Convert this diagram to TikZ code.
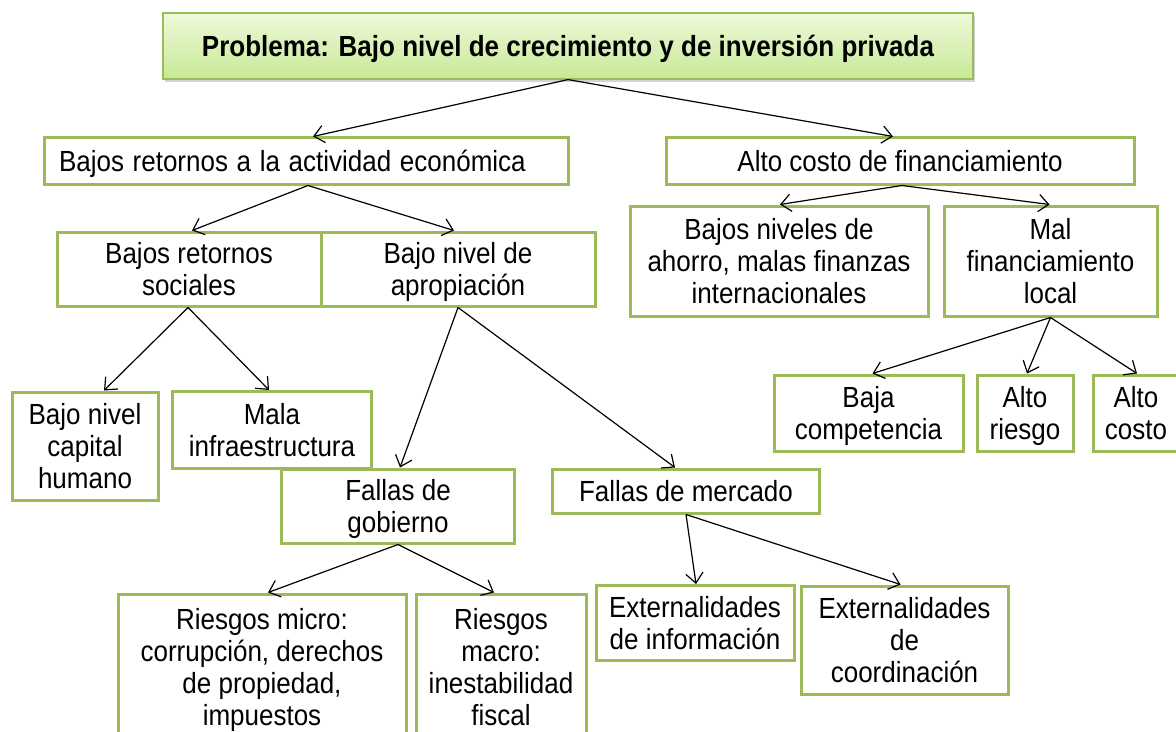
\documentclass[tikz,border=0pt]{standalone}
\usepackage{fontspec}
\usepackage{graphicx}
\setmainfont{Liberation Sans}
\usetikzlibrary{arrows.meta,calc,shadows}
\definecolor{bgreen}{RGB}{155,187,89}
\definecolor{gtop}{RGB}{238,249,218}
\definecolor{gbot}{RGB}{200,233,150}
\newcommand\vt[2][c]{\raisebox{-3pt}[\height][\depth]{\scalebox{1}[1.12]{\begin{tabular}{@{}#1@{}}#2\end{tabular}}}}
\begin{document}
\begin{tikzpicture}[x=0.75pt,y=-0.75pt,
  wh/.style 2 args={minimum width=#1*0.75pt, minimum height=#2*0.75pt},
  box/.style={draw=bgreen, line width=2.25pt, fill=white, inner sep=0pt,
    font=\fontsize{19.5}{21.4}\selectfont},
  topbox/.style={draw=bgreen, line width=0.9pt, top color=gtop, bottom color=gbot,
    inner sep=0pt, font=\fontsize{19.5}{21.4}\selectfont\bfseries,
    drop shadow={shadow xshift=1.5pt, shadow yshift=-2pt, opacity=0.35}},
  arr/.style={-{Straight Barb[length=7.5pt,width=13pt]}, line width=0.9pt, black}]
\useasboundingbox (0,0) rectangle (1176,731);

\node[topbox, wh={810}{66}] (top) at (568,46) {\vt{Problema: Bajo nivel de crecimiento y de inversión privada}};

\node[box, wh={524}{46}, text width=494*0.75pt, align=left] (b2) at (306,161) {\vt[l]{Bajos retornos a la actividad económica}};
\node[box, wh={468}{46}] (b3) at (900,161) {\vt{Alto costo de financiamiento}};

\node[box, wh={264}{74}] (c1) at (189,269) {\vt{Bajos retornos\\sociales}};
\node[box, wh={274}{74}] (c2) at (458,269) {\vt{Bajo nivel de\\apropiación}};
\node[box, wh={298}{110}] (c3) at (779,261) {\vt{Bajos niveles de\\ahorro, malas finanzas\\internacionales}};
\node[box, wh={213}{110}] (c4) at (1050.5,261) {\vt{Mal\\financiamiento\\local}};

\node[box, wh={146}{108}] (d1) at (85,446) {\vt{Bajo nivel\\capital\\humano}};
\node[box, wh={199}{77}] (d2) at (272,430) {\vt{Mala\\infraestructura}};
\node[box, wh={233}{74}] (d3) at (398,506) {\vt{Fallas de\\gobierno}};
\node[box, wh={267}{44}] (d4) at (686,491) {\vt{Fallas de mercado}};

\node[box, wh={189}{76}] (e1) at (868.5,413) {\vt{Baja\\competencia}};
\node[box, wh={96}{76}] (e2) at (1025,413) {\vt{Alto\\riesgo}};
\node[box, wh={86}{76}] (e3) at (1136,413) {\vt{Alto\\costo}};

\node[box, wh={288}{146}] (f1) at (262,667) {\vt{Riesgos micro:\\corrupción, derechos\\de propiedad,\\impuestos}};
\node[box, wh={170}{146}] (f2) at (501,667) {\vt{Riesgos\\macro:\\inestabilidad\\fiscal}};

\node[box, wh={198}{75}] (g1) at (695,623) {\vt{Externalidades\\de información}};
\node[box, wh={207}{108}] (g2) at (904.5,640) {\vt{Externalidades\\de\\coordinación}};

\draw[arr] (top.south) -- ($(b2.north)+(7,0)$);
\draw[arr] (top.south) -- ($(b3.north)+(-7,0)$);
\draw[arr] ($(b2.south)+(2,0)$) -- ($(c1.north)+(3,0)$);
\draw[arr] ($(b2.south)+(2,0)$) -- ($(c2.north)+(-4,0)$);
\draw[arr] ($(b3.south)+(2,0)$) -- ($(c3.north)+(1,0)$);
\draw[arr] ($(b3.south)+(2,0)$) -- ($(c4.north)+(-1,0)$);
\draw[arr] (c4.south) -- ($(e1.north)+(4,0)$);
\draw[arr] (c4.south) -- ($(e2.north)+(2,0)$);
\draw[arr] (c4.south) -- ($(e3.north)+(1,0)$);
\draw[arr] ($(c1.south)+(-1,0)$) -- ($(d1.north)+(19,0)$);
\draw[arr] ($(c1.south)+(-1,0)$) -- ($(d2.north)+(-3,0)$);
\draw[arr] (c2.south) -- ($(d3.north)+(2,0)$);
\draw[arr] (c2.south) -- ($(d4.north)+(-11,0)$);
\draw[arr] (d3.south) -- ($(f1.north)+(6,0)$);
\draw[arr] (d3.south) -- ($(f2.north)+(-7,0)$);
\draw[arr] (d4.south) -- ($(g1.north)+(1,0)$);
\draw[arr] (d4.south) -- ($(g2.north)+(-4,0)$);
\end{tikzpicture}
\end{document}
